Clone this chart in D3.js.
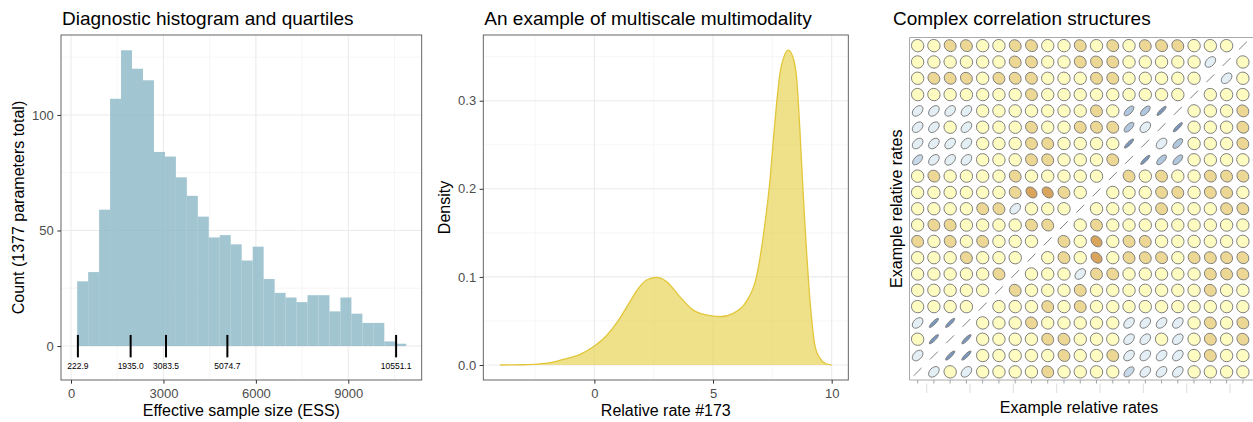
<!DOCTYPE html>
<html>
<head>
<meta charset="utf-8">
<script src="https://cdn.jsdelivr.net/npm/d3@7"></script>
<style>
  body { margin: 0; background: #fff; }
  svg { font-family: "Liberation Sans", Arial, Helvetica, sans-serif; }
  .axis .tick text { fill: #4d4d4d; font-size: 13px; }
  .axis .tick line { stroke: #333; }
  .axis .domain { display: none; }
</style>
</head>
<body>
<svg id="chart" width="1253" height="422"></svg>
<script>
// ---- Data: ESS histogram (30 bins) ----
var essBinStart = 200;
var essBinWidth = 356;
var essCounts = [28, 32, 59, 107, 128, 120, 115, 84, 82, 73, 65, 56, 47, 48, 44,
                 37, 43, 29, 23, 21, 19, 22, 22, 15, 21, 14, 10, 10, 2, 1];
var essQuantiles = [222.9, 1935.0, 3083.5, 5074.7, 10551.1];
var essXTicks = [0, 3000, 6000, 9000];
var essXMinor = [1500, 4500, 7500, 10500];
var essYTicks = [0, 50, 100];
var essYMinor = [25, 75, 125];

// ---- Data: density of relative rate #173 ----
var rateX = [-3.97, -3.0, -2.4, -1.8, -1.3, -0.6, 0, 0.5, 1.0, 1.5, 1.8, 2.2, 2.6, 3.05,
             3.6, 4.15, 4.7, 5.3, 5.85, 6.4, 6.83, 7.0, 7.2, 7.4, 7.54, 7.71, 7.82, 7.99,
             8.17, 8.36, 8.53, 8.66, 8.76, 8.86, 8.95, 9.04, 9.16, 9.3, 9.51, 9.72, 10.0];
var rateDensity = [0, 0.0003, 0.001, 0.003, 0.0065, 0.012, 0.0216, 0.033, 0.05, 0.072, 0.085,
                   0.0965, 0.0995, 0.0946, 0.0776, 0.0626, 0.0568, 0.0549, 0.0587, 0.0719,
                   0.100, 0.125, 0.163, 0.21, 0.255, 0.305, 0.331, 0.350, 0.3575, 0.350,
                   0.3235, 0.267, 0.215, 0.165, 0.125, 0.089, 0.051, 0.021, 0.0076, 0.002, 0];
var rateXTicks = [0, 5, 10];
var rateXMinor = [-2.5, 2.5, 7.5];
var rateYTicks = [0, 0.1, 0.2, 0.3];
var rateYMinor = [0.05, 0.15, 0.25, 0.35];

// ---- Data: correlation matrix, rows top to bottom ----
var corrRows = [
  [-.03,-.03,-.12,-.12,-.03,-.03,-.12,-.12,-.03,-.03,-.12,-.03,-.12,-.03,-.12,-.12,-.12,-.03,-.03,-.03,1],
  [-.03,-.03,-.03,-.03,-.03,-.03,-.12,-.12,-.03,-.03,-.12,-.12,-.12,-.03,-.03,-.03,-.03,-.03,.4,1,-.03],
  [-.03,-.12,-.12,-.12,-.03,-.12,-.12,-.12,-.03,-.03,-.03,-.12,-.12,-.03,-.03,-.03,-.03,-.03,1,.4,-.03],
  [-.03,-.03,-.03,-.03,-.03,-.03,-.03,-.12,-.03,-.03,-.03,-.03,-.03,-.03,-.03,-.03,-.03,1,-.03,-.03,-.03],
  [.4,.4,.4,.4,-.03,-.03,-.03,-.03,-.03,-.03,-.03,-.12,-.03,.65,.65,.88,1,-.03,-.03,-.03,-.12],
  [.4,.4,-.03,.4,-.03,-.03,-.03,-.12,-.03,-.03,-.12,-.12,-.12,.65,.4,1,.88,-.03,-.03,-.03,-.12],
  [.4,.4,.4,.4,-.03,-.03,-.03,-.12,-.12,-.03,-.03,-.03,-.03,.88,1,.4,.65,-.03,-.03,-.03,-.12],
  [.55,.4,.4,.4,-.03,-.03,-.03,-.12,-.12,-.03,-.03,-.03,-.12,1,.88,.65,.65,-.03,-.03,-.03,-.03],
  [-.03,-.12,-.03,-.03,-.03,-.03,-.12,-.03,-.03,-.03,-.03,-.03,1,-.12,-.03,-.12,-.03,-.03,-.12,-.12,-.12],
  [-.03,-.03,-.03,-.03,-.03,-.03,-.12,-.3,-.3,-.12,-.03,1,-.03,-.03,-.03,-.12,-.12,-.03,-.12,-.12,-.03],
  [-.03,-.03,-.03,-.03,-.12,-.12,.4,-.03,-.03,-.03,1,-.03,-.03,-.03,-.03,-.12,-.03,-.03,-.03,-.12,-.12],
  [-.03,-.12,-.12,-.03,-.03,-.03,-.03,-.12,-.12,1,-.03,-.12,-.03,-.03,-.03,-.03,-.03,-.03,-.03,-.03,-.03],
  [-.12,-.03,-.12,-.03,-.12,-.03,-.03,-.03,1,-.12,-.03,-.3,-.03,-.12,-.12,-.03,-.03,-.03,-.03,-.03,-.03],
  [-.03,-.03,-.03,-.12,-.03,-.03,-.03,1,-.03,-.12,-.03,-.3,-.03,-.12,-.12,-.12,-.03,-.12,-.12,-.12,-.12],
  [-.03,-.03,-.03,-.03,-.03,-.12,1,-.03,-.03,-.03,.4,-.12,-.12,-.03,-.03,-.03,-.03,-.03,-.12,-.12,-.12],
  [-.03,-.03,-.03,-.03,-.03,1,-.12,-.03,-.03,-.03,-.12,-.03,-.03,-.03,-.03,-.03,-.03,-.03,-.12,-.03,-.03],
  [-.03,-.03,-.03,-.03,1,-.03,-.03,-.03,-.12,-.03,-.12,-.03,-.03,-.03,-.03,-.03,-.03,-.03,-.03,-.03,-.03],
  [.4,.88,.88,1,-.03,-.03,-.03,-.12,-.03,-.03,-.03,-.03,-.03,.4,.4,.4,.4,-.03,-.12,-.03,-.12],
  [-.03,.88,1,.88,-.03,-.03,-.03,-.03,-.12,-.12,-.03,-.03,-.03,.4,.4,-.03,.4,-.03,-.12,-.03,-.12],
  [.4,1,.88,.88,-.03,-.03,-.03,-.03,-.03,-.12,-.03,-.03,-.12,.4,.4,.4,.4,-.03,-.12,-.03,-.03],
  [1,.4,-.03,.4,-.03,-.03,-.03,-.03,-.12,-.03,-.03,-.03,-.03,.55,.4,.4,.4,-.03,-.03,-.03,-.03]
];
var ghostTicks = [0, 1, 2, 3, 4, 5, 6, 7];

var svg = d3.select("#chart");

// Panel boxes
var p1 = {left: 61, right: 421.7, top: 35, bottom: 380};
var p2 = {left: 483.3, right: 848.3, top: 35, bottom: 380};
var p3 = {left: 909.5, right: 1251, top: 37.5, bottom: 380};

// Grid lines (minor first, then major)
function drawGrid(p, x, y, xMajor, xMinor, yMajor, yMinor) {
  var g = svg.append("g");
  g.selectAll("line.xmin").data(xMinor).enter().append("line")
    .attr("x1", d => x(d)).attr("x2", d => x(d))
    .attr("y1", p.top).attr("y2", p.bottom)
    .attr("stroke", "#f0f0f0").attr("stroke-width", 0.6);
  g.selectAll("line.ymin").data(yMinor).enter().append("line")
    .attr("y1", d => y(d)).attr("y2", d => y(d))
    .attr("x1", p.left).attr("x2", p.right)
    .attr("stroke", "#f0f0f0").attr("stroke-width", 0.6);
  g.selectAll("line.xmaj").data(xMajor).enter().append("line")
    .attr("x1", d => x(d)).attr("x2", d => x(d))
    .attr("y1", p.top).attr("y2", p.bottom)
    .attr("stroke", "#ebebeb").attr("stroke-width", 1.1);
  g.selectAll("line.ymaj").data(yMajor).enter().append("line")
    .attr("y1", d => y(d)).attr("y2", d => y(d))
    .attr("x1", p.left).attr("x2", p.right)
    .attr("stroke", "#ebebeb").attr("stroke-width", 1.1);
}

function drawBorder(p) {
  svg.append("rect")
    .attr("x", p.left).attr("y", p.top)
    .attr("width", p.right - p.left).attr("height", p.bottom - p.top)
    .attr("fill", "none").attr("stroke", "#555").attr("stroke-width", 0.9);
}

function drawAxes(p, x, y, xTicks, yTicks, xFmt, yFmt) {
  svg.append("g").attr("class", "axis")
    .attr("transform", `translate(0, ${p.bottom})`)
    .call(d3.axisBottom(x).tickValues(xTicks).tickFormat(xFmt).tickSize(3.7).tickPadding(5));
  svg.append("g").attr("class", "axis")
    .attr("transform", `translate(${p.left}, 0)`)
    .call(d3.axisLeft(y).tickValues(yTicks).tickFormat(yFmt).tickSize(3.7).tickPadding(3.5));
}

function drawTitles(p, title, xTitle, yTitle, yTitleX, xTitleY) {
  svg.append("text")
    .attr("x", p.left + 1).attr("y", 25)
    .attr("font-size", 19).attr("fill", "#000")
    .text(title);
  svg.append("text")
    .attr("x", (p.left + p.right) / 2).attr("y", xTitleY)
    .attr("text-anchor", "middle").attr("font-size", 16)
    .text(xTitle);
  svg.append("text")
    .attr("transform", `translate(${yTitleX}, ${(p.top + p.bottom) / 2}) rotate(-90)`)
    .attr("dy", "0.35em")
    .attr("text-anchor", "middle").attr("font-size", 16)
    .text(yTitle);
}

// ---- Panel 1: histogram with quantiles ----
var essX = d3.scaleLinear().domain([-325, 11382]).range([p1.left, p1.right]);
var essY = d3.scaleLinear().domain([-14.7, 134.6]).range([p1.bottom, p1.top]);

drawGrid(p1, essX, essY, essXTicks, essXMinor, essYTicks, essYMinor);

svg.append("g").selectAll("rect").data(essCounts).enter().append("rect")
  .attr("x", (d, i) => essX(essBinStart + i * essBinWidth))
  .attr("width", (d, i) => essX(essBinStart + (i + 1) * essBinWidth) - essX(essBinStart + i * essBinWidth))
  .attr("y", d => essY(d))
  .attr("height", d => essY(0) - essY(d))
  .attr("fill", "#8ab6c5")
  .attr("fill-opacity", 0.8);

// quantile marks and labels
var qG = svg.append("g");
qG.selectAll("line").data(essQuantiles).enter().append("line")
  .attr("x1", d => essX(d)).attr("x2", d => essX(d))
  .attr("y1", essY(4.8)).attr("y2", essY(-4.9))
  .attr("stroke", "#000").attr("stroke-width", 2);
qG.selectAll("text").data(essQuantiles).enter().append("text")
  .attr("x", d => essX(d)).attr("y", essY(-8.5))
  .attr("dy", "0.35em")
  .attr("text-anchor", "middle").attr("font-size", 8.5)
  .text(d => d.toFixed(1));

drawBorder(p1);
drawAxes(p1, essX, essY, essXTicks, essYTicks, d3.format("d"), d3.format("d"));
drawTitles(p1, "Diagnostic histogram and quartiles", "Effective sample size (ESS)",
           "Count (1377 parameters total)", 18.5, 416);

// ---- Panel 2: density ----
var rateXScale = d3.scaleLinear().domain([-4.68, 10.7]).range([p2.left, p2.right]);
var rateYScale = d3.scaleLinear().domain([-0.017, 0.3746]).range([p2.bottom, p2.top]);

drawGrid(p2, rateXScale, rateYScale, rateXTicks, rateXMinor, rateYTicks, rateYMinor);

var densityPts = rateX.map((x, i) => [x, rateDensity[i]]);
var area = d3.area()
  .x(d => rateXScale(d[0]))
  .y0(rateYScale(0))
  .y1(d => rateYScale(d[1]))
  .curve(d3.curveMonotoneX);
var line = d3.line()
  .x(d => rateXScale(d[0]))
  .y(d => rateYScale(d[1]))
  .curve(d3.curveMonotoneX);

svg.append("path").datum(densityPts)
  .attr("d", area)
  .attr("fill", "#e6cf4c").attr("fill-opacity", 0.65);
svg.append("path").datum(densityPts)
  .attr("d", line)
  .attr("fill", "none").attr("stroke", "#e2c63a").attr("stroke-width", 1.3);

drawBorder(p2);
drawAxes(p2, rateXScale, rateYScale, rateXTicks, rateYTicks, d3.format("d"), d3.format(".1f"));
drawTitles(p2, "An example of multiscale multimodality", "Relative rate #173",
           "Density", 444.5, 416);

// ---- Panel 3: correlation ellipses ----
var nVar = corrRows.length;
var cols = d3.range(nVar);
var corrX = d3.scaleBand().domain(cols).range([p3.left, p3.right]);
var corrY = d3.scaleBand().domain(cols).range([p3.top, p3.bottom]);
var corrColor = d3.scaleLinear()
  .domain([-0.3, -0.12, -0.03, 0.4, 0.55, 0.65, 0.88])
  .range(["#d9a55c", "#ecd894", "#fffcc2", "#e3eff5", "#c8dae9", "#b0c7dd", "#7a97c0"])
  .clamp(true);
var rad = 6.3;

// frame: left, top and bottom only (panel runs off the right edge)
svg.append("line").attr("x1", p3.left).attr("x2", p3.left)
  .attr("y1", p3.top).attr("y2", p3.bottom).attr("stroke", "#aaa");
svg.append("line").attr("x1", p3.left).attr("x2", 1253)
  .attr("y1", p3.top).attr("y2", p3.top).attr("stroke", "#aaa");
svg.append("line").attr("x1", p3.left).attr("x2", 1253)
  .attr("y1", p3.bottom).attr("y2", p3.bottom).attr("stroke", "#aaa");

var cells = [];
corrRows.forEach(function(row, r) {
  row.forEach(function(v, c) {
    cells.push({r: r, c: c, v: v});
  });
});

var cellG = svg.append("g").selectAll("g").data(cells).enter().append("g")
  .attr("transform", d => `translate(${corrX(d.c) + corrX.bandwidth() / 2}, ${corrY(d.r) + corrY.bandwidth() / 2}) rotate(-45)`);

cellG.filter(d => d.v < 0.999).append("ellipse")
  .attr("rx", d => rad * Math.sqrt((1 + d.v) / (1 + Math.abs(d.v))))
  .attr("ry", d => rad * Math.sqrt((1 - d.v) / (1 + Math.abs(d.v))))
  .attr("fill", d => corrColor(d.v))
  .attr("stroke", "#7a7a7a").attr("stroke-width", 0.9);

cellG.filter(d => d.v >= 0.999).append("line")
  .attr("x1", -rad * 0.88).attr("x2", rad * 0.88)
  .attr("stroke", "#7a7a7a").attr("stroke-width", 0.9);

// tick marks under the matrix
svg.append("g").selectAll("line").data(cols).enter().append("line")
  .attr("x1", d => corrX(d) + corrX.bandwidth() / 2)
  .attr("x2", d => corrX(d) + corrX.bandwidth() / 2)
  .attr("y1", p3.bottom).attr("y2", p3.bottom + 3.5)
  .attr("stroke", "#999").attr("stroke-width", 0.9);

var ghostX = d3.scaleLinear().domain([0, 7]).range([926.7, 1230]);
svg.append("g").selectAll("line").data(ghostTicks).enter().append("line")
  .attr("x1", d => ghostX(d)).attr("x2", d => ghostX(d))
  .attr("y1", p3.bottom + 3.5).attr("y2", p3.bottom + 13)
  .attr("stroke", "#e3e3e3").attr("stroke-width", 1.2);

svg.append("text")
  .attr("x", 893).attr("y", 25)
  .attr("font-size", 19)
  .text("Complex correlation structures");
svg.append("text")
  .attr("x", 1079).attr("y", 413)
  .attr("text-anchor", "middle").attr("font-size", 16)
  .text("Example relative rates");
svg.append("text")
  .attr("transform", `translate(896, ${(p3.top + p3.bottom) / 2}) rotate(-90)`)
  .attr("dy", "0.35em")
  .attr("text-anchor", "middle").attr("font-size", 16)
  .text("Example relative rates");
</script>
</body>
</html>
